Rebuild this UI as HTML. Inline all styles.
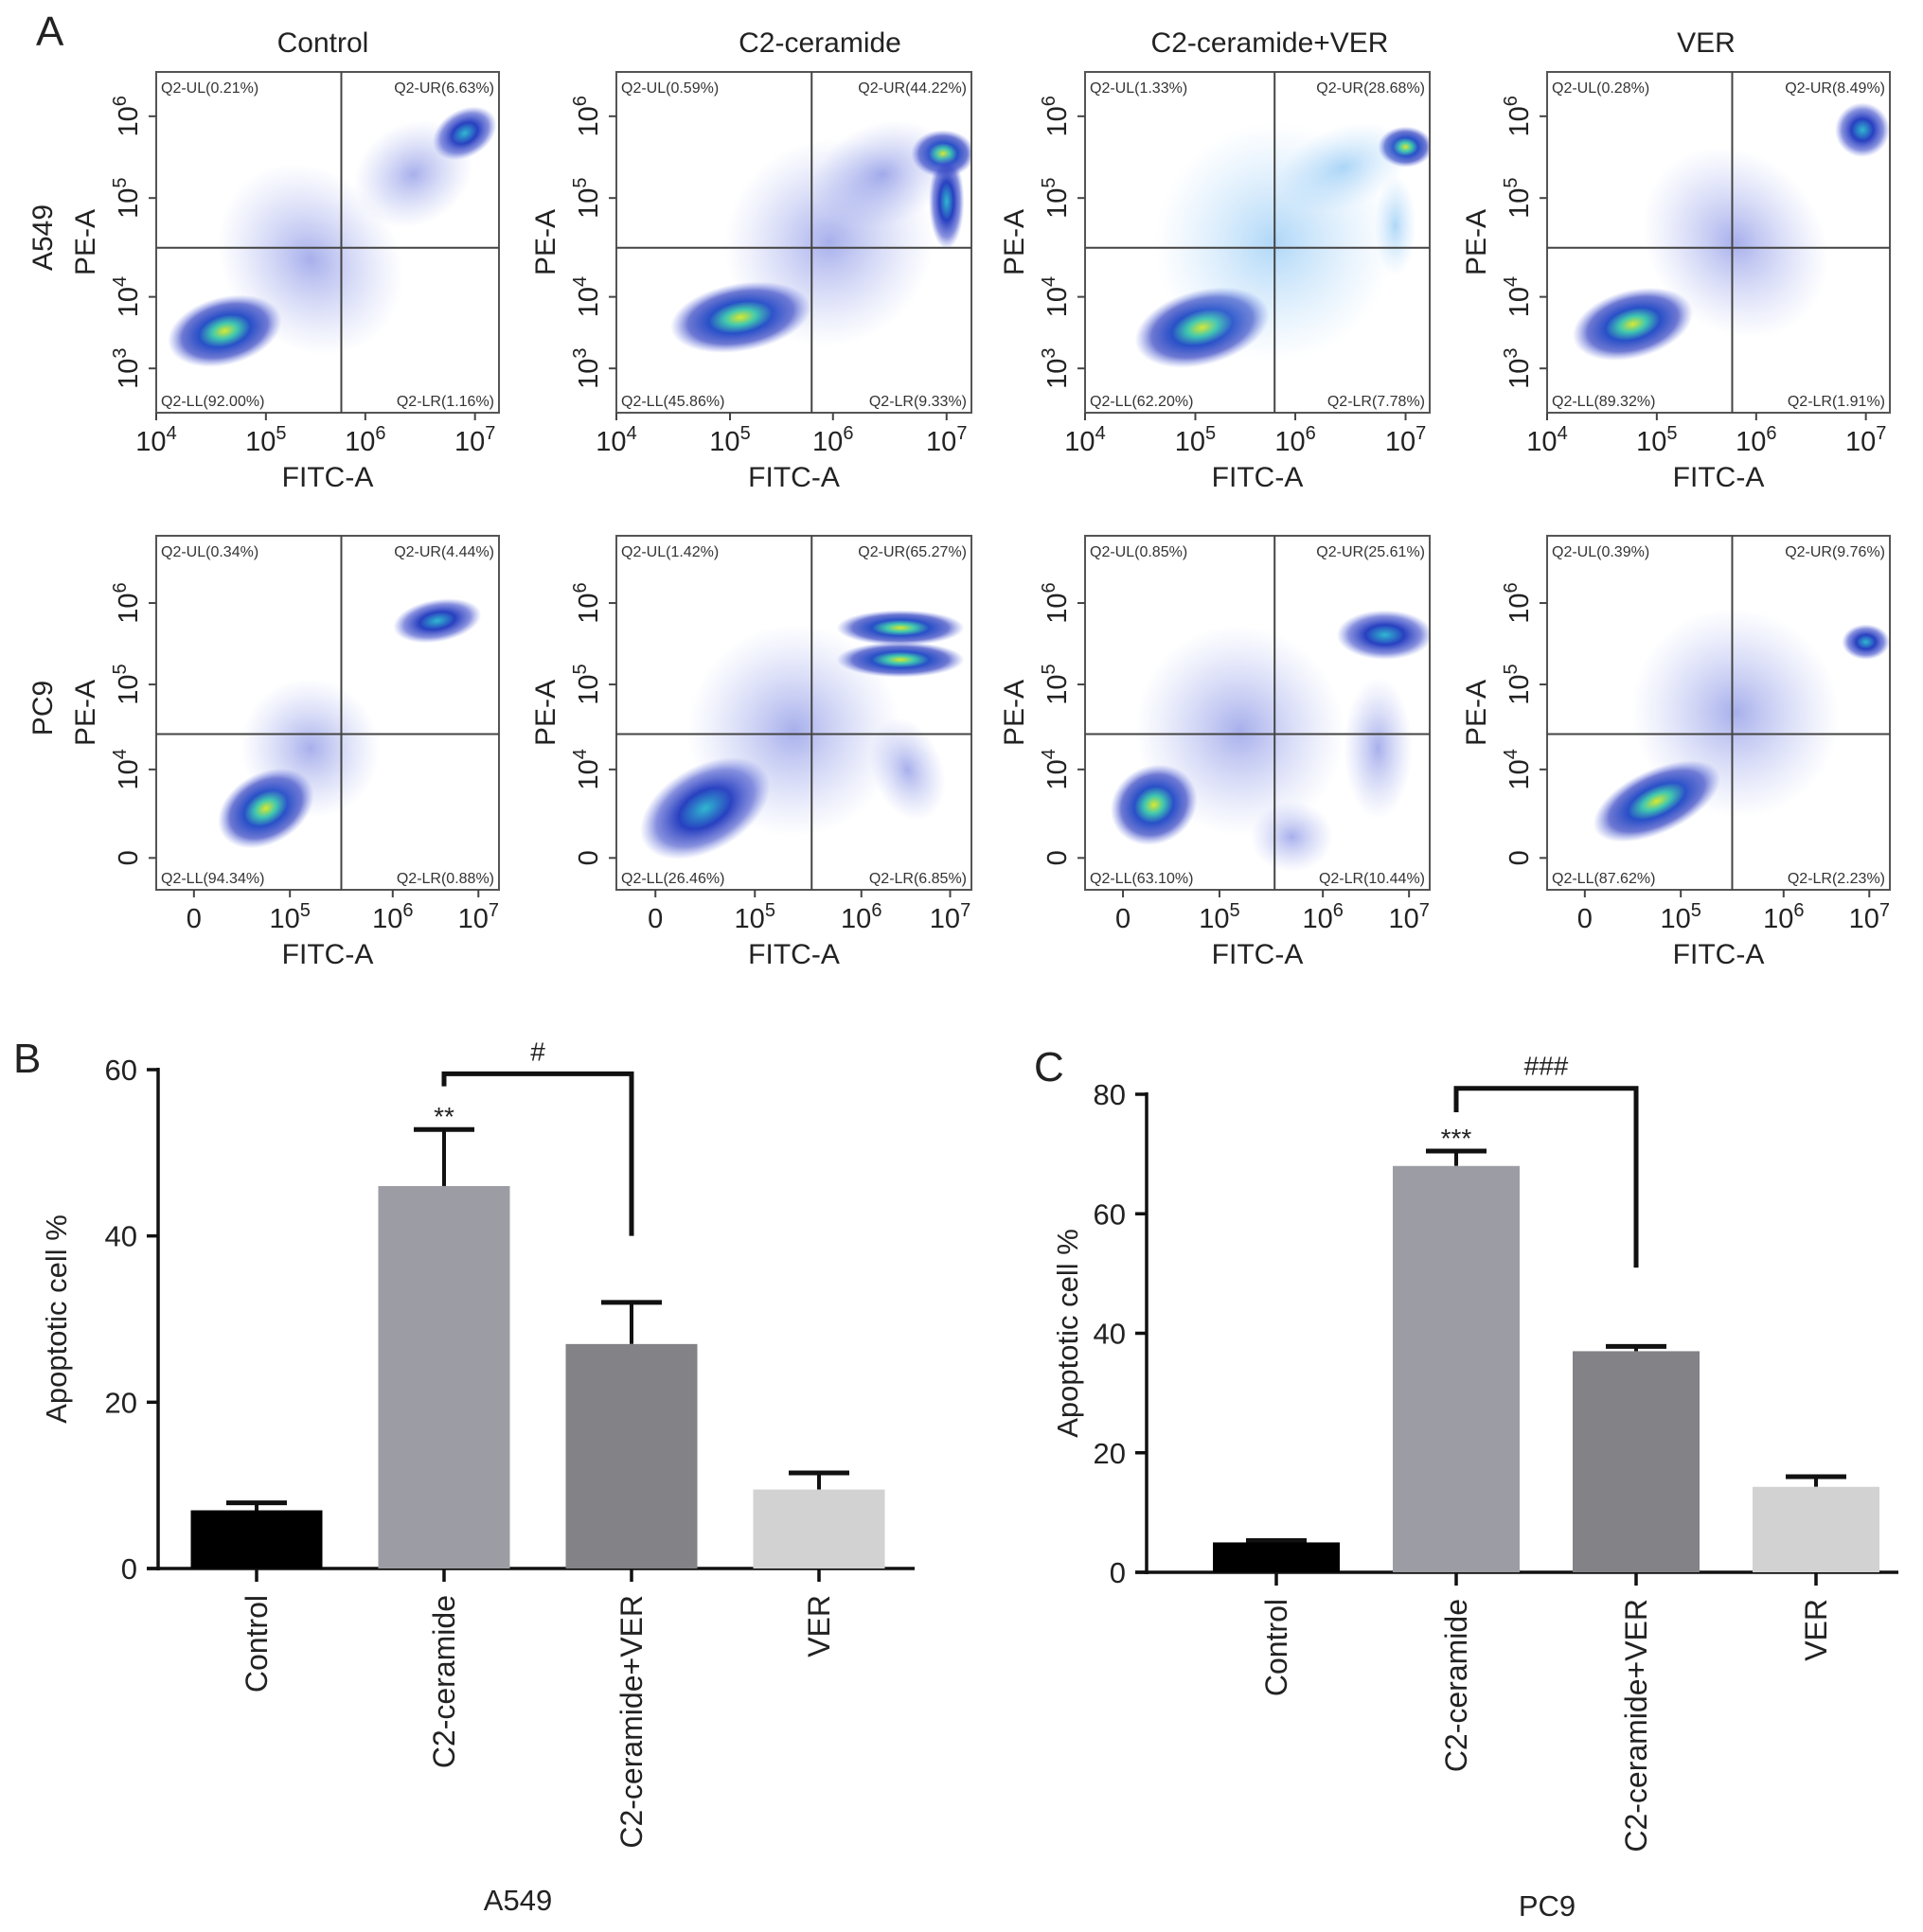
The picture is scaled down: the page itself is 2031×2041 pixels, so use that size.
<!DOCTYPE html>
<html><head><meta charset="utf-8"><style>
html,body{margin:0;padding:0;background:#fff}
svg{display:block;font-family:"Liberation Sans",Arial,sans-serif}
</style></head><body>
<svg id="fig" width="2031" height="2041" viewBox="0 0 2031 2041" xmlns="http://www.w3.org/2000/svg">
<defs>
<radialGradient id="gDense"><stop offset="0" stop-color="#d8e830"/><stop offset="0.22" stop-color="#40c8b0"/><stop offset="0.45" stop-color="#2850c8"/><stop offset="0.75" stop-color="#3040c0" stop-opacity="0.7"/><stop offset="1" stop-color="#6070e0" stop-opacity="0"/></radialGradient>
<radialGradient id="gMid"><stop offset="0" stop-color="#30b8d0"/><stop offset="0.4" stop-color="#2840c0"/><stop offset="0.75" stop-color="#3848c8" stop-opacity="0.6"/><stop offset="1" stop-color="#6070e0" stop-opacity="0"/></radialGradient>
<radialGradient id="gSparse"><stop offset="0" stop-color="#5060d8" stop-opacity="0.5"/><stop offset="1" stop-color="#8090e8" stop-opacity="0"/></radialGradient>
<radialGradient id="gLight"><stop offset="0" stop-color="#60b0f0" stop-opacity="0.5"/><stop offset="1" stop-color="#90c8f8" stop-opacity="0"/></radialGradient>
</defs>
<g id="flow"></g>
<g id="bars"></g>
</svg>
<script>
// ---- Flow cytometry data ----
const groups = ["Control","C2-ceramide","C2-ceramide+VER","VER"];
const cellLines = ["A549","PC9"];
const qUL = [[0.21,0.59,1.33,0.28],[0.34,1.42,0.85,0.39]];
const qUR = [[6.63,44.22,28.68,8.49],[4.44,65.27,25.61,9.76]];
const qLL = [[92.00,45.86,62.20,89.32],[94.34,26.46,63.10,87.62]];
const qLR = [[1.16,9.33,7.78,1.91],[0.88,6.85,10.44,2.23]];
const xTicksRow1 = ["4","5","6","7"];
const yTicksRow1 = ["6","5","4","3"];
const xTicksRow2 = ["0","10^5","10^6","10^7"];
const yTicksRow2 = ["10^6","10^5","10^4","0"];

// ---- Bar chart data ----
const barCats = ["Control","C2-ceramide","C2-ceramide+VER","VER"];
const a549Vals = [7,46,27,9.5];
const a549Err = [7.9,52.8,32,11.5];
const pc9Vals = [5,68,37,14.3];
const pc9Err = [5.3,70.5,37.8,16];
const a549Ticks = [0,20,40,60];
const pc9Ticks = [0,20,40,60,80];
const barColors = ["#000000","#9c9ca4","#828287","#d2d2d2"];

const NS="http://www.w3.org/2000/svg";
function mk(tag,attrs,parent,text){const e=document.createElementNS(NS,tag);for(const k in attrs)e.setAttribute(k,attrs[k]);if(text!==undefined)e.textContent=text;parent.appendChild(e);return e;}

const flow=document.getElementById('flow');
const colX=[[165,527],[651,1026],[1146,1510],[1634,1996]];
const rowY=[[76,436],[566,940]];
const titleX=[341,866,1341,1802];
const qx=[[0.54,0.55,0.55,0.54],[0.54,0.55,0.55,0.54]];
const qy=[0.516,0.56];
const clusters=[
 [[[0.2,0.76,0.17,0.1,-15,'gDense'],[0.45,0.55,0.25,0.3,-40,'gSparse'],[0.9,0.18,0.1,0.07,-30,'gMid'],[0.75,0.3,0.18,0.15,-30,'gSparse']],
  [[0.35,0.72,0.2,0.1,-10,'gDense'],[0.6,0.5,0.3,0.3,-40,'gSparse'],[0.92,0.24,0.09,0.07,0,'gDense'],[0.93,0.38,0.05,0.14,0,'gMid'],[0.75,0.3,0.2,0.15,-20,'gSparse']],
  [[0.34,0.75,0.2,0.11,-15,'gDense'],[0.55,0.5,0.35,0.35,-40,'gLight'],[0.93,0.22,0.08,0.06,0,'gDense'],[0.75,0.28,0.2,0.12,-20,'gLight'],[0.9,0.45,0.06,0.15,0,'gLight']],
  [[0.25,0.74,0.18,0.1,-15,'gDense'],[0.55,0.5,0.25,0.3,-40,'gSparse'],[0.92,0.17,0.08,0.08,-20,'gMid']]],
 [[[0.32,0.77,0.15,0.1,-30,'gDense'],[0.45,0.6,0.2,0.2,-40,'gSparse'],[0.82,0.24,0.13,0.06,-10,'gMid']],
  [[0.25,0.77,0.2,0.12,-30,'gMid'],[0.5,0.55,0.3,0.3,-40,'gSparse'],[0.8,0.26,0.18,0.05,0,'gDense'],[0.8,0.35,0.18,0.05,0,'gDense'],[0.82,0.66,0.1,0.15,-20,'gSparse']],
  [[0.2,0.76,0.13,0.11,-30,'gDense'],[0.45,0.55,0.3,0.3,-40,'gSparse'],[0.87,0.28,0.14,0.07,0,'gMid'],[0.6,0.85,0.12,0.1,0,'gSparse'],[0.85,0.6,0.1,0.2,0,'gSparse']],
  [[0.32,0.75,0.2,0.09,-25,'gDense'],[0.55,0.5,0.3,0.3,-40,'gSparse'],[0.93,0.3,0.07,0.05,0,'gMid']]]
];
const tickFracX=[[0,0.32,0.61,0.93],[0.11,0.39,0.69,0.94]];
const tickFracY=[[0.13,0.37,0.66,0.87],[0.19,0.42,0.66,0.91]];

for(let r=0;r<2;r++){
 for(let c=0;c<4;c++){
  const [x0,x1]=colX[c];const [y0,y1]=rowY[r];const w=x1-x0,h=y1-y0;
  const g=mk('g',{},flow);
  
  
  const clip=mk('clipPath',{id:'cl'+r+c},g);mk('rect',{x:x0,y:y0,width:w,height:h},clip);
  const cg=mk('g',{'clip-path':'url(#cl'+r+c+')'},g);
  clusters[r][c].forEach(cl=>{
   const cx=x0+cl[0]*w,cy=y0+cl[1]*h;
   const e=mk('ellipse',{cx:cx,cy:cy,rx:cl[2]*w,ry:cl[3]*h,fill:'url(#'+cl[5]+')',transform:'rotate('+cl[4]+' '+cx+' '+cy+')'},cg);
   
   
  });
  const box=mk('rect',{x:x0,y:y0,width:w,height:h,fill:'none',stroke:'#555','stroke-width':2},g);
  
  
  const vx=x0+qx[r][c]*w,hy=y0+qy[r]*h;
  mk('line',{x1:vx,y1:y0,x2:vx,y2:y1,stroke:'#444','stroke-width':2},g);
  mk('line',{x1:x0,y1:hy,x2:x1,y2:hy,stroke:'#444','stroke-width':2},g);
  const fs=16;
  const labs=[['Q2-UL('+qUL[r][c].toFixed(2)+'%)',x0+5,y0+22,'start'],['Q2-UR('+qUR[r][c].toFixed(2)+'%)',x1-5,y0+22,'end'],['Q2-LL('+qLL[r][c].toFixed(2)+'%)',x0+5,y1-7,'start'],['Q2-LR('+qLR[r][c].toFixed(2)+'%)',x1-5,y1-7,'end']];
  labs.forEach(l=>{const t=mk('text',{x:l[1],y:l[2],'font-size':fs,fill:'#333','text-anchor':l[3]},g,l[0]);
   
   });
  const xt=r===0?xTicksRow1:xTicksRow2, yt=r===0?yTicksRow1:yTicksRow2;
  xt.forEach((s,i)=>{const tx=x0+tickFracX[r][i]*w;
   mk('line',{x1:tx,y1:y1,x2:tx,y2:y1+8,stroke:'#444','stroke-width':2},g);
   let t;
   if(r===0){t=mk('text',{x:tx,y:y1+40,'font-size':29,'text-anchor':'middle',fill:'#222'},g,'10');mk('tspan',{dy:-12,'font-size':20},t,s);}
   else if(s==='0'){t=mk('text',{x:tx,y:y1+40,'font-size':29,'text-anchor':'middle',fill:'#222'},g,'0');}
   else{t=mk('text',{x:tx,y:y1+40,'font-size':29,'text-anchor':'middle',fill:'#222'},g,'10');mk('tspan',{dy:-12,'font-size':20},t,s.split('^')[1]);}
   
   
  });
  yt.forEach((s,i)=>{const ty=y0+tickFracY[r][i]*h;
   mk('line',{x1:x0-8,y1:ty,x2:x0,y2:ty,stroke:'#444','stroke-width':2},g);
   const lx=x0-20;
   let t=mk('text',{x:lx,y:ty,'font-size':29,'text-anchor':'middle',fill:'#222',transform:'rotate(-90 '+lx+' '+ty+')'},g,s==='0'?'0':'10');
   if(s!=='0'){mk('tspan',{dy:-12,'font-size':20},t,r===0?s:s.split('^')[1]);}
   
   
  });
  const xl=mk('text',{x:(x0+x1)/2,y:y1+78,'font-size':30,'text-anchor':'middle',fill:'#222'},g,'FITC-A');
  
  
  const px=x0-65,py=(y0+y1)/2;
  const yl=mk('text',{x:px,y:py,'font-size':30,'text-anchor':'middle',fill:'#222',transform:'rotate(-90 '+px+' '+py+')'},g,'PE-A');
  
  
  if(c===0){const ax=x0-110;const cl2=mk('text',{x:ax,y:py-5,'font-size':30,'text-anchor':'middle',fill:'#222',transform:'rotate(-90 '+ax+' '+(py-5)+')'},g,cellLines[r]);
   
   }
  if(r===0){const tt=mk('text',{x:titleX[c],y:55,'font-size':30,'text-anchor':'middle',fill:'#222'},g,groups[c]);
   
   }
 }
}
const pA=mk('text',{x:38,y:48,'font-size':44,fill:'#222'},flow,'A');



// ---- Bar charts ----
const bars=document.getElementById('bars');
function barChart(cfg){
 const g=mk('g',{},bars);
 
 
 const ymax=cfg.ticks[cfg.ticks.length-1];
 const Y=v=>cfg.y0-(v/ymax)*(cfg.y0-cfg.yTop);
 mk('line',{x1:cfg.ax,y1:cfg.yTop-2,x2:cfg.ax,y2:cfg.y0+2,stroke:'#111','stroke-width':3.5},g);
 mk('line',{x1:cfg.ax-12,y1:cfg.y0,x2:cfg.axEnd,y2:cfg.y0,stroke:'#111','stroke-width':3.5},g);
 cfg.ticks.forEach(t=>{const y=Y(t);mk('line',{x1:cfg.ax-12,y1:y,x2:cfg.ax,y2:y,stroke:'#111','stroke-width':3.5},g);
  const tl=mk('text',{x:cfg.ax-22,y:y+11,'font-size':31,'text-anchor':'end',fill:'#222'},g,String(t));
  
  });
 const bw=cfg.bw;
 cfg.vals.forEach((v,i)=>{
  const cx=cfg.c0+i*cfg.step;
  const eb=cfg.err[i];
  mk('line',{x1:cx,y1:Y(v),x2:cx,y2:Y(eb),stroke:'#111','stroke-width':4},g);
  mk('line',{x1:cx-32,y1:Y(eb),x2:cx+32,y2:Y(eb),stroke:'#111','stroke-width':5},g);
  const b=mk('rect',{x:cx-bw/2,y:Y(v),width:bw,height:cfg.y0-Y(v),fill:barColors[i]},g);
  
  
  mk('line',{x1:cx,y1:cfg.y0,x2:cx,y2:cfg.y0+14,stroke:'#111','stroke-width':3.5},g);
  const ly=cfg.y0+28;
  const cl=mk('text',{x:cx+11,y:ly,'font-size':32,'text-anchor':'end',fill:'#222',transform:'rotate(-90 '+(cx+11)+' '+ly+')'},g,barCats[i]);
  
  
 });
 const c1=cfg.c0+cfg.step,c2=cfg.c0+2*cfg.step;
 mk('polyline',{points:c1+','+Y(cfg.br[1])+' '+c1+','+Y(cfg.br[0])+' '+c2+','+Y(cfg.br[0])+' '+c2+','+Y(cfg.br[2]),fill:'none',stroke:'#111','stroke-width':5},g);
 const h=mk('text',{x:(c1+c2)/2,y:Y(cfg.br[0])-14,'font-size':28,'text-anchor':'middle',fill:'#222'},g,cfg.hash);
 
 
 const s=mk('text',{x:c1,y:Y(cfg.err[1])-4,'font-size':28,'text-anchor':'middle',fill:'#222'},g,cfg.star);
 
 
 const ty=(cfg.yTop+cfg.y0)/2;
 const yt=mk('text',{x:cfg.titleX,y:ty,'font-size':31,'text-anchor':'middle',fill:'#222',transform:'rotate(-90 '+cfg.titleX+' '+ty+')'},g,'Apoptotic cell %');
 
 
 const xt=mk('text',{x:cfg.lineX,y:cfg.lineY,'font-size':31,'text-anchor':'middle',fill:'#222'},g,cfg.line);
 
 
 const pl=mk('text',{x:cfg.pX,y:cfg.pY,'font-size':44,fill:'#222'},g,cfg.panel);
 
 
}
barChart({name:'a549-bar-chart',ax:167,axEnd:966,y0:1657,yTop:1130,ticks:a549Ticks,vals:a549Vals,err:a549Err,c0:271,step:198,bw:139,br:[59.5,58,40],hash:'#',star:'**',titleX:70,line:'A549',lineX:547,lineY:2018,panel:'B',pX:14,pY:1133});
barChart({name:'pc9-bar-chart',ax:1211,axEnd:2005,y0:1661,yTop:1156,ticks:pc9Ticks,vals:pc9Vals,err:pc9Err,c0:1348,step:190,bw:134,br:[81,77,51],hash:'###',star:'***',titleX:1138,line:'PC9',lineX:1634,lineY:2024,panel:'C',pX:1092,pY:1142});
</script>
</body></html>
